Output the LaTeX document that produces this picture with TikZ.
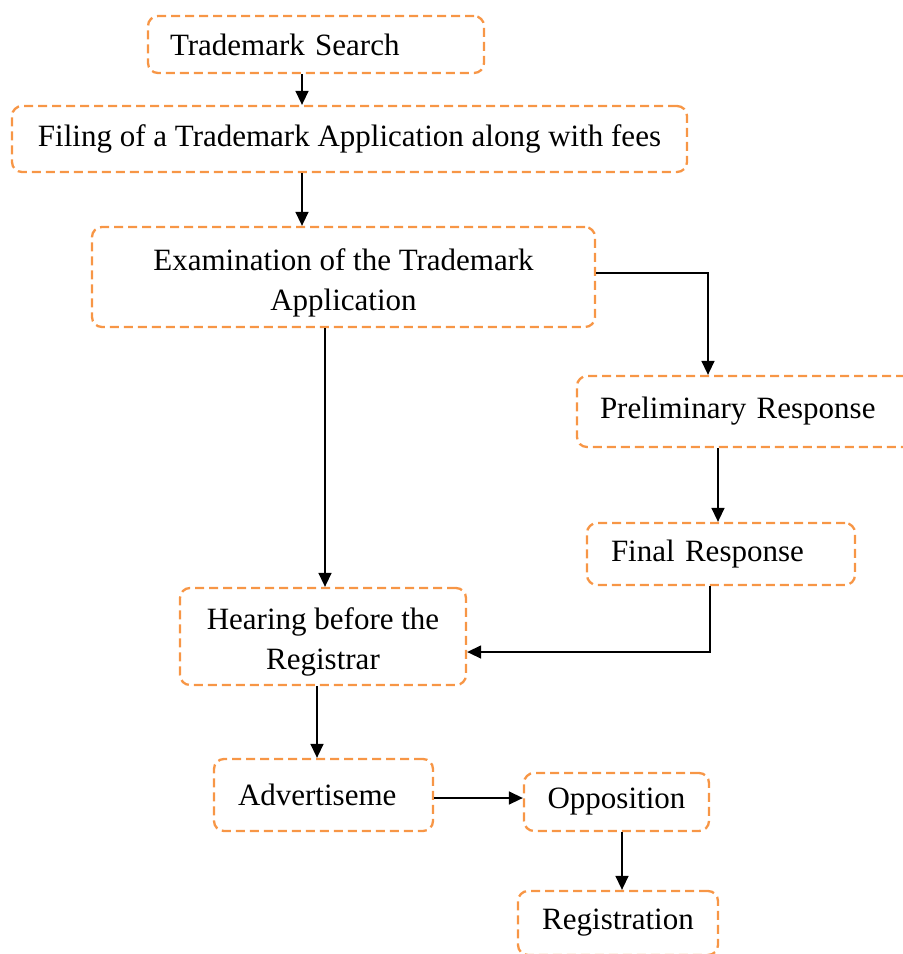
\documentclass[tikz,border=0pt]{standalone}
\usepackage{fontspec}
\setmainfont{Liberation Serif}
\usetikzlibrary{arrows.meta}
\definecolor{boxorange}{HTML}{F79646}
\begin{document}
\begin{tikzpicture}[x=1pt,y=-1pt,
  stepbox/.style={draw=boxorange, line width=2.3pt, dash pattern=on 9pt off 5pt,
    rounded corners=10pt, inner sep=0pt, font=\fontsize{31}{40}\selectfont},
  twoline/.style={text height=73pt, text depth=7pt},
  arr/.style={line width=1.5pt, -{Triangle[length=14pt,width=13pt]}}]
\useasboundingbox (0,0) rectangle (903,954);
\node[stepbox, minimum width=336pt, minimum height=57pt, text width=292pt, align=left] (search) at (316,44.5) {Trademark Search};
\node[stepbox, minimum width=675pt, minimum height=66pt, align=center] (filing) at (349.5,139) {Filing of a Trademark Application along with fees};
\node[stepbox, twoline, minimum width=503pt, minimum height=100pt, align=center] (exam) at (343.5,277) {Examination of the Trademark\\Application};
\node[stepbox, minimum width=338pt, minimum height=71pt, text width=292pt, align=left] (prelim) at (746,411.5) {Preliminary Response};
\node[stepbox, minimum width=268pt, minimum height=62pt, text width=220pt, align=left] (final) at (721,554) {Final Response};
\node[stepbox, twoline, minimum width=286pt, minimum height=97pt, align=center] (hearing) at (323,636.5) {Hearing before the\\Registrar};
\node[stepbox, minimum width=219pt, minimum height=72pt, text width=171pt, align=left] (advert) at (323.5,795) {Advertiseme};
\node[stepbox, minimum width=185pt, minimum height=58pt, align=center] (oppo) at (616.5,802) {Opposition};
\node[stepbox, minimum width=200pt, minimum height=64pt, align=center] (regis) at (618,923) {Registration};

\draw[arr] (search.south -| 302,0) -- (filing.north -| 302,0);
\draw[arr] (filing.south -| 302,0) -- (exam.north -| 302,0);
\draw[arr] (exam.east |- 0,273) -| (prelim.north -| 708,0);
\draw[arr] (exam.south -| 325,0) -- (hearing.north -| 325,0);
\draw[arr] (prelim.south -| 718,0) -- (final.north -| 718,0);
\draw[arr] (final.south -| 710,0) |- (hearing.east |- 0,652);
\draw[arr] (hearing.south -| 317,0) -- (advert.north -| 317,0);
\draw[arr] (advert.east |- 0,798) -- (oppo.west |- 0,798);
\draw[arr] (oppo.south -| 622,0) -- (regis.north -| 622,0);
\end{tikzpicture}
\end{document}
